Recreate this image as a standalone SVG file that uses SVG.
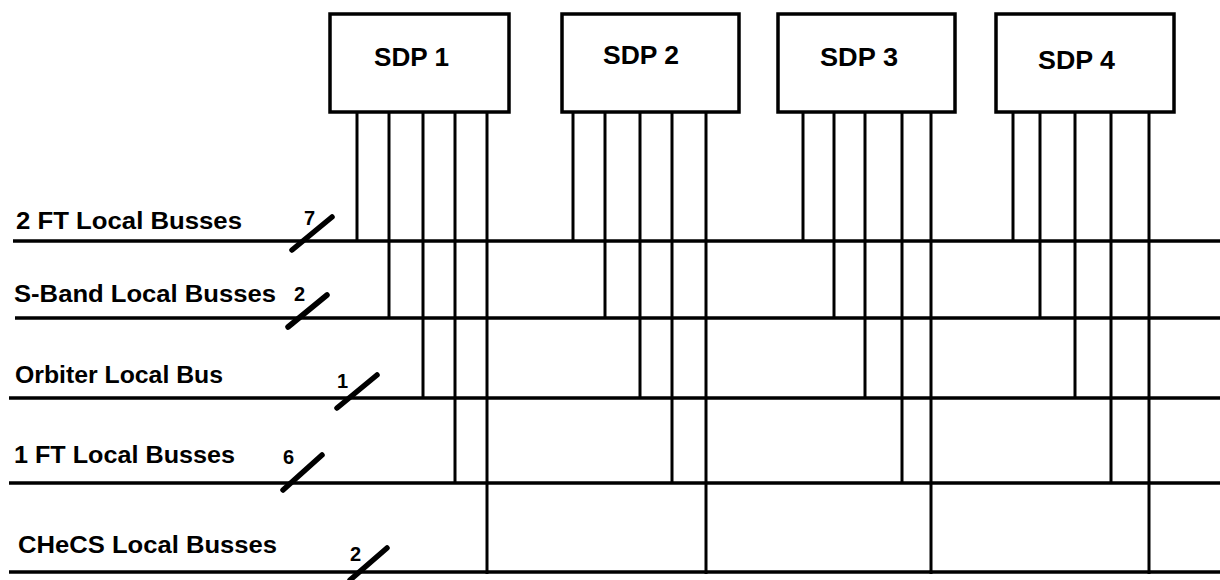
<svg xmlns="http://www.w3.org/2000/svg" width="1220" height="580" viewBox="0 0 1220 580">
<style>
.box{fill:#fff;stroke:#000;stroke-width:3.5}
.sdp{font-family:"Liberation Sans",Arial,sans-serif;font-weight:bold;font-size:26px;fill:#000}
.lbl{font-family:"Liberation Sans",Arial,sans-serif;font-weight:bold;font-size:23px;fill:#000}
.num{font-family:"Liberation Sans",Arial,sans-serif;font-weight:bold;font-size:20px;fill:#000}
.bus{stroke:#000;stroke-width:3.5;fill:none}
.drop{stroke:#000;stroke-width:3;fill:none}
.slash{stroke:#000;stroke-width:5.5;stroke-linecap:round;fill:none}
</style>
<rect width="1220" height="580" fill="#fff"/>
<g id="connectors">
  <g id="buses">
    <line class="bus" x1="13" y1="241" x2="1220" y2="241"/>
    <line class="bus" x1="15" y1="318" x2="1220" y2="318"/>
    <line class="bus" x1="9" y1="398" x2="1220" y2="398"/>
    <line class="bus" x1="9" y1="483" x2="1220" y2="483"/>
    <line class="bus" x1="9" y1="572" x2="1220" y2="572"/>
  </g>
  <g id="drops">
    <line class="drop" x1="357" y1="112" x2="357" y2="241"/>
    <line class="drop" x1="389" y1="112" x2="389" y2="318"/>
    <line class="drop" x1="423" y1="112" x2="423" y2="398"/>
    <line class="drop" x1="455" y1="112" x2="455" y2="483"/>
    <line class="drop" x1="487" y1="112" x2="487" y2="574"/>
    <line class="drop" x1="573" y1="112" x2="573" y2="241"/>
    <line class="drop" x1="605" y1="112" x2="605" y2="318"/>
    <line class="drop" x1="640" y1="112" x2="640" y2="398"/>
    <line class="drop" x1="672" y1="112" x2="672" y2="483"/>
    <line class="drop" x1="706" y1="112" x2="706" y2="574"/>
    <line class="drop" x1="803" y1="112" x2="803" y2="241"/>
    <line class="drop" x1="834" y1="112" x2="834" y2="318"/>
    <line class="drop" x1="865" y1="112" x2="865" y2="398"/>
    <line class="drop" x1="902" y1="112" x2="902" y2="483"/>
    <line class="drop" x1="931" y1="112" x2="931" y2="574"/>
    <line class="drop" x1="1013" y1="112" x2="1013" y2="241"/>
    <line class="drop" x1="1040" y1="112" x2="1040" y2="318"/>
    <line class="drop" x1="1075" y1="112" x2="1075" y2="398"/>
    <line class="drop" x1="1111" y1="112" x2="1111" y2="483"/>
    <line class="drop" x1="1149" y1="112" x2="1149" y2="574"/>
  </g>
  <g id="slashes">
    <line class="slash" x1="292" y1="250" x2="332" y2="217"/>
    <line class="slash" x1="288" y1="327" x2="327" y2="295"/>
    <line class="slash" x1="337" y1="408" x2="377" y2="375"/>
    <line class="slash" x1="283" y1="490" x2="322" y2="455"/>
    <line class="slash" x1="350" y1="580" x2="387" y2="548"/>
  </g>
</g>
<g id="sdp1"><rect class="box" x="330" y="14" width="179" height="98"/><text class="sdp" x="374" y="66" textLength="75" lengthAdjust="spacingAndGlyphs">SDP 1</text></g>
<g id="sdp2"><rect class="box" x="562" y="14" width="177" height="98"/><text class="sdp" x="603" y="64" textLength="76" lengthAdjust="spacingAndGlyphs">SDP 2</text></g>
<g id="sdp3"><rect class="box" x="778" y="14" width="177" height="98"/><text class="sdp" x="820" y="66" textLength="78" lengthAdjust="spacingAndGlyphs">SDP 3</text></g>
<g id="sdp4"><rect class="box" x="996" y="14" width="178" height="98"/><text class="sdp" x="1038" y="69" textLength="77" lengthAdjust="spacingAndGlyphs">SDP 4</text></g>
<g id="bus-2ft"><text class="lbl" x="16" y="229" textLength="226" lengthAdjust="spacingAndGlyphs">2 FT Local Busses</text><text class="num" x="304" y="225">7</text></g>
<g id="bus-sband"><text class="lbl" x="14" y="302" textLength="262" lengthAdjust="spacingAndGlyphs">S-Band Local Busses</text><text class="num" x="294" y="301">2</text></g>
<g id="bus-orbiter"><text class="lbl" x="15" y="383" textLength="208" lengthAdjust="spacingAndGlyphs">Orbiter Local Bus</text><text class="num" x="337" y="388">1</text></g>
<g id="bus-1ft"><text class="lbl" x="14" y="463" textLength="221" lengthAdjust="spacingAndGlyphs">1 FT Local Busses</text><text class="num" x="283" y="464">6</text></g>
<g id="bus-checs"><text class="lbl" x="18" y="553" textLength="259" lengthAdjust="spacingAndGlyphs">CHeCS Local Busses</text><text class="num" x="350" y="561">2</text></g>
</svg>
